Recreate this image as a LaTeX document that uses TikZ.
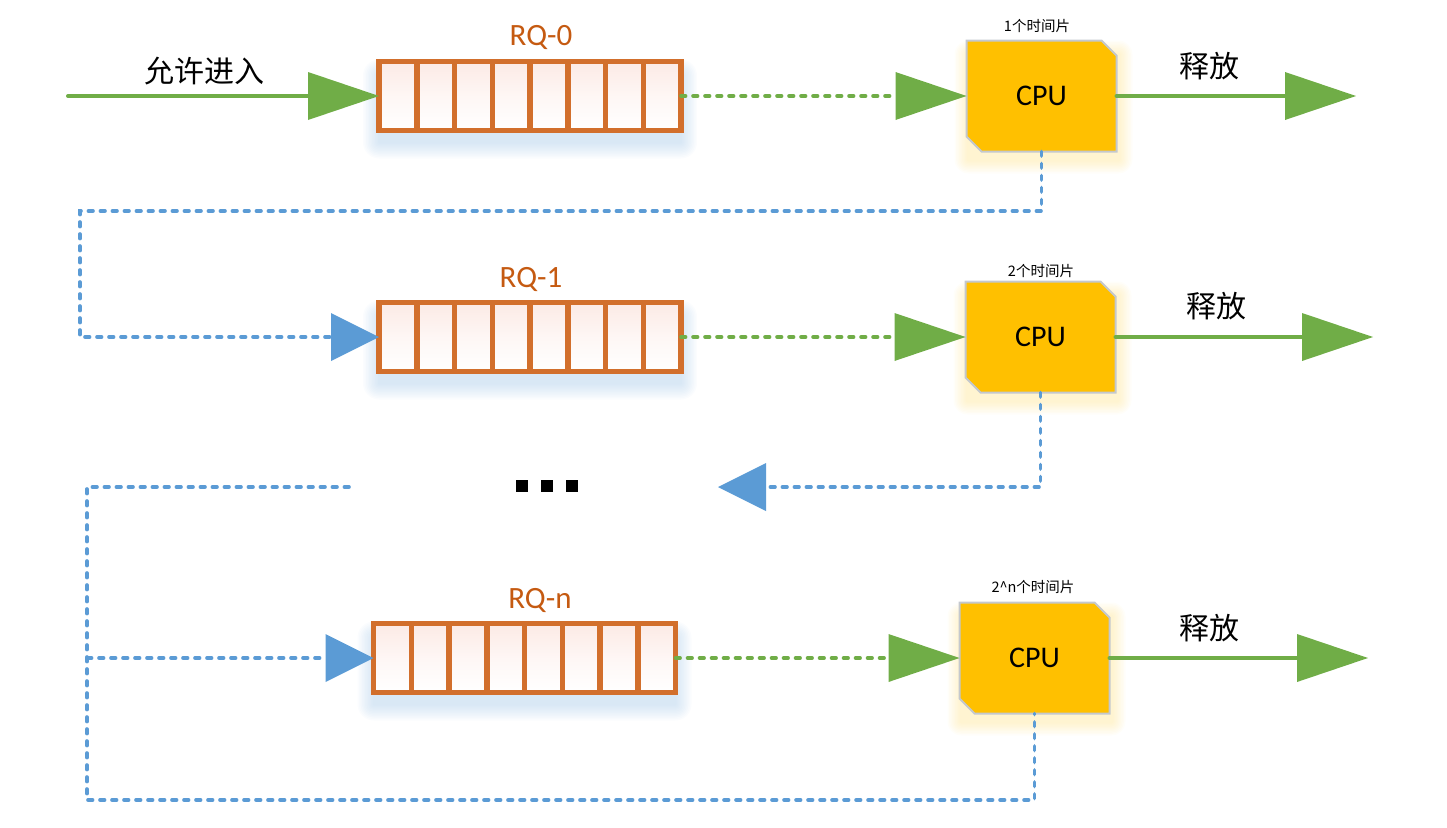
\documentclass[tikz,border=0pt]{standalone}
\usepackage{fontspec}
\setmainfont{Carlito}
\newfontfamily\cjk{Noto Sans CJK SC}
\usetikzlibrary{arrows.meta,calc}
\pgfdeclarelayer{background}
\pgfsetlayers{background,main}
\definecolor{qorange}{RGB}{210,111,44}
\definecolor{qtext}{RGB}{197,90,17}
\definecolor{qpink}{RGB}{252,234,229}
\definecolor{cpuyel}{RGB}{255,192,0}
\definecolor{cpuedge}{RGB}{196,200,206}
\definecolor{glowyel}{RGB}{255,214,90}
\definecolor{gline}{RGB}{112,173,71}
\definecolor{bline}{RGB}{91,155,213}
\definecolor{shadowblue}{RGB}{157,195,230}
\tikzset{
  queue/.style={rectangle, draw=qorange, line width=5.5pt, top color=qpink, bottom color=white,
    middle color=white!60!qpink, minimum width=302pt, minimum height=69pt, inner sep=0pt, outer sep=0pt},
  qdiv/.style={draw=qorange, line width=5.5pt},
  qlabel/.style={text=qtext, font=\fontsize{31}{36}\selectfont, inner sep=0pt},
  cpubox/.style={rectangle, minimum width=150pt, minimum height=111pt, inner sep=0pt, outer sep=0pt,
    font=\fontsize{30}{36}\selectfont},
  cpushape/.style={fill=cpuyel, draw=cpuedge, line width=2pt, line join=miter},
  tslabel/.style={font=\cjk\fontsize{14.5}{17}\selectfont, inner sep=0pt},
  cnlabel/.style={font=\cjk\fontsize{30}{36}\selectfont, inner sep=0pt},
  dotsq/.style={fill=black, minimum size=12pt, inner sep=0pt},
  gsolid/.style={draw=gline, line width=4pt, line cap=round},
  gdot/.style={draw=gline, line width=3.6pt, line cap=round, dash pattern=on 4.6pt off 7.4pt},
  bdot/.style={draw=bline, line width=3.6pt, line cap=round, dash pattern=on 4.6pt off 7.4pt},
  gbig/.style={-{Triangle[length=71pt,width=48pt,line width=0pt]}},
  bbig/.style={-{Triangle[length=48pt,width=48pt,line width=0pt]}}
}
\begin{document}
\begin{tikzpicture}[x=1pt,y=-1pt]
\useasboundingbox (0,0) rectangle (1447,827);

% queues
\node[queue] (q0) at (530,96) {};
\node[queue] (q1) at (530,337) {};
\node[queue] (qn) at (524.5,658) {};
\foreach \q in {q0,q1,qn}{
  \foreach \i in {1,...,7}{
    \draw[qdiv] ($(\q.north west)!\i/8!(\q.north east)$) -- ($(\q.south west)!\i/8!(\q.south east)$);
  }
}
\node[qlabel, anchor=base] (l0) at (541,45) {RQ-0};
\node[qlabel, anchor=base] (l1) at (531,287) {RQ-1};
\node[qlabel, anchor=base] (ln) at (540,608) {RQ-n};

% CPUs
\node[cpubox] (c0) at (1041.5,96) {CPU};
\node[cpubox] (c1) at (1040.5,337) {CPU};
\node[cpubox] (cn) at (1034.5,658) {CPU};
\node[tslabel] (t0) at (1037,26) {1个时间片};
\node[tslabel] (t1) at (1041,271) {2个时间片};
\node[tslabel] (tn) at (1033,587) {2\textasciicircum n个时间片};

% labels
\node[cnlabel] (enter) at (204,71) {允许进入};
\node[cnlabel] (r0) at (1209,66) {释放};
\node[cnlabel] (r1) at (1216,306) {释放};
\node[cnlabel] (rn) at (1209,628) {释放};

% dots
\node[dotsq] (d1) at (522,486) {};
\node[dotsq] (d2) at (547,486) {};
\node[dotsq] (d3) at (572,486) {};

% coordinates
\coordinate (start) at (68,96);
\coordinate (out0) at (1356,96);
\coordinate (out1) at (1373,337);
\coordinate (outn) at (1368,658);
\coordinate (k0a) at (80,211);
\coordinate (back1) at (718,487);
\coordinate (lt) at (349,487);
\coordinate (lc) at (87,487);
\coordinate (lb) at (87,800);
\coordinate (lm) at (87,658);

% connectors
\draw[gsolid, gbig] (start) -- (q0.west);
\draw[gdot, gbig] (q0.east) -- (c0.west);
\draw[gsolid, gbig] (c0.east) -- (out0);
\draw[gdot, gbig] (q1.east) -- (c1.west);
\draw[gsolid, gbig] (c1.east) -- (out1);
\draw[gdot, gbig] (qn.east) -- (cn.west);
\draw[gsolid, gbig] (cn.east) -- (outn);
\draw[bdot, bbig] (c0.south) |- (k0a) |- (q1.west);
\draw[bdot, bbig] (c1.south) |- (back1);
\draw[bdot] (lt) -- (lc) -- (lb) -| (cn.south);
\draw[bdot, bbig] (lm) -- (qn.west);

% shadows, glows and CPU shapes
\begin{pgfonlayer}{background}
  \foreach \q in {q0,q1,qn}{
    \foreach \e in {16,14.5,...,1}{
      \fill[shadowblue, opacity=0.045, rounded corners=\e pt] ($(\q.north west)+(-\e,14-\e)$) rectangle ($(\q.south east)+(\e,12+\e)$);
    }
  }
  \foreach \c in {c0,c1,cn}{
    \foreach \e in {14,12.5,...,1}{
      \fill[glowyel, opacity=0.035, rounded corners=\e pt] ($(\c.north west)+(2-\e,14-\e)$) rectangle ($(\c.south east)+(2+\e,8+\e)$);
    }
    \path[cpushape] (\c.north west) -- ([xshift=-15pt]\c.north east) -- ([yshift=-15pt]\c.north east)
      -- (\c.south east) -- ([xshift=15pt]\c.south west) -- ([yshift=15pt]\c.south west) -- cycle;
  }
\end{pgfonlayer}
\end{tikzpicture}
\end{document}
